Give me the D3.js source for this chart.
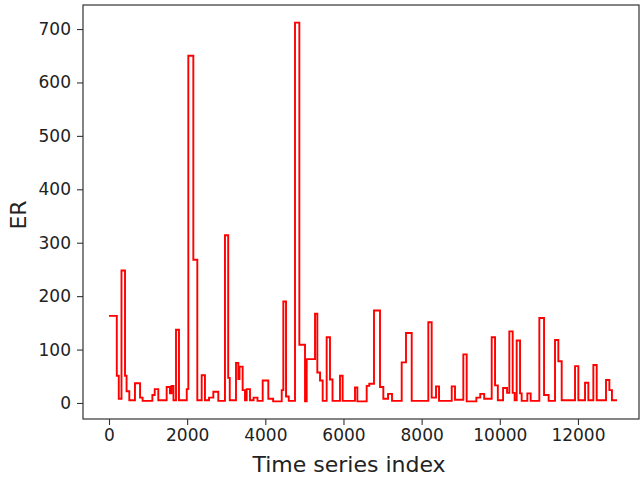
<!DOCTYPE html>
<html>
<head>
<meta charset="utf-8">
<script src="https://cdn.jsdelivr.net/npm/d3@7"></script>
<style>
  html, body { margin: 0; padding: 0; background: #fff; }
  svg { display: block; }
  text { font-family: "DejaVu Sans", sans-serif; fill: #222; }
</style>
</head>
<body>
<svg id="chart" width="641" height="478"></svg>
<script>
// Step starts (time series index) and ER values
const stepIndex = [
  0, 200, 250, 320, 410, 450, 520, 665, 795, 860,
  1110, 1170, 1262, 1476, 1560, 1600, 1650, 1715, 1791, 1990,
  2030, 2158, 2260, 2372, 2456, 2560, 2670, 2797, 2968, 3050,
  3090, 3250, 3310, 3340, 3420, 3480, 3523, 3608, 3700, 3800,
  3933, 4077, 4200, 4420, 4461, 4530, 4600, 4760, 4871, 5016,
  5059, 5272, 5331, 5400, 5468, 5570, 5655, 5720, 5911, 5979,
  6295, 6355, 6594, 6660, 6781, 6935, 7020, 7140, 7242, 7490,
  7600, 7746, 8171, 8257, 8368, 8445, 8770, 8854, 9067, 9153,
  9400, 9500, 9600, 9793, 9878, 9950, 10084, 10186, 10244, 10330,
  10380, 10432, 10518, 10560, 10705, 10790, 11012, 11132, 11250, 11413,
  11498, 11584, 11925, 12010, 12181, 12266, 12394, 12480, 12718, 12804,
  12870, 13000
];
const erValues = [
  163, 51, 8, 248, 51, 22, 5, 37, 10, 4,
  15, 26, 5, 30, 18, 32, 5, 137, 5, 26,
  650, 268, 5, 52, 5, 10, 21, 4, 314, 47,
  5, 75, 45, 68, 24, 5, 26, 5, 10, 4,
  42, 8, 3, 24, 190, 12, 4, 712, 109, 3,
  82, 167, 57, 42, 4, 123, 44, 4, 51, 4,
  29, 3, 32, 36, 173, 30, 8, 17, 4, 76,
  131, 4, 151, 10, 31, 4, 31, 6, 91, 3,
  10, 17, 8, 123, 33, 5, 28, 19, 134, 19,
  5, 117, 18, 4, 18, 4, 159, 15, 4, 118,
  78, 5, 69, 5, 38, 5, 71, 5, 43, 24,
  5, 5
];
const xTicks = [0, 2000, 4000, 6000, 8000, 10000, 12000];
const yTicks = [0, 100, 200, 300, 400, 500, 600, 700];

const data = stepIndex.map((x, i) => ({ x, y: erValues[i] }));

const W = 641, H = 478;
const m = { left: 83, right: 2, top: 5, bottom: 59 };
const svg = d3.select("#chart");

const x = d3.scaleLinear().domain([-665, 13562]).range([m.left, W - m.right]);
const y = d3.scaleLinear().domain([-30, 745]).range([H - m.bottom, m.top]);

// line
const line = d3.line().x(d => x(d.x)).y(d => y(d.y)).curve(d3.curveStepAfter);
svg.append("path")
  .datum(data)
  .attr("fill", "none")
  .attr("stroke", "#ff0000")
  .attr("stroke-width", 1.9)
  .attr("stroke-linejoin", "miter")
  .attr("d", line);

// frame
svg.append("rect")
  .attr("x", m.left).attr("y", m.top)
  .attr("width", W - m.right - m.left).attr("height", H - m.bottom - m.top)
  .attr("fill", "none").attr("stroke", "#333").attr("stroke-width", 1.2);

// axes
const xAxis = svg.append("g")
  .attr("transform", `translate(0,${H - m.bottom})`)
  .call(d3.axisBottom(x).tickValues(xTicks).tickFormat(d3.format("d")).tickSize(6).tickPadding(4));
const yAxis = svg.append("g")
  .attr("transform", `translate(${m.left},0)`)
  .call(d3.axisLeft(y).tickValues(yTicks).tickFormat(d3.format("d")).tickSize(6).tickPadding(6));

[xAxis, yAxis].forEach(g => {
  g.select(".domain").remove();
  g.selectAll(".tick line").attr("stroke", "#333").attr("stroke-width", 1.1);
  g.selectAll(".tick text").attr("font-size", 17).attr("fill", "#222")
    .attr("font-family", "DejaVu Sans, sans-serif");
});

// axis labels
svg.append("text")
  .attr("x", 349)
  .attr("y", 472)
  .attr("text-anchor", "middle")
  .attr("font-size", 22)
  .text("Time series index");

svg.append("text")
  .attr("transform", `translate(26,${(m.top + H - m.bottom) / 2 + 3}) rotate(-90)`)
  .attr("text-anchor", "middle")
  .attr("font-size", 22)
  .text("ER");
</script>
</body>
</html>
